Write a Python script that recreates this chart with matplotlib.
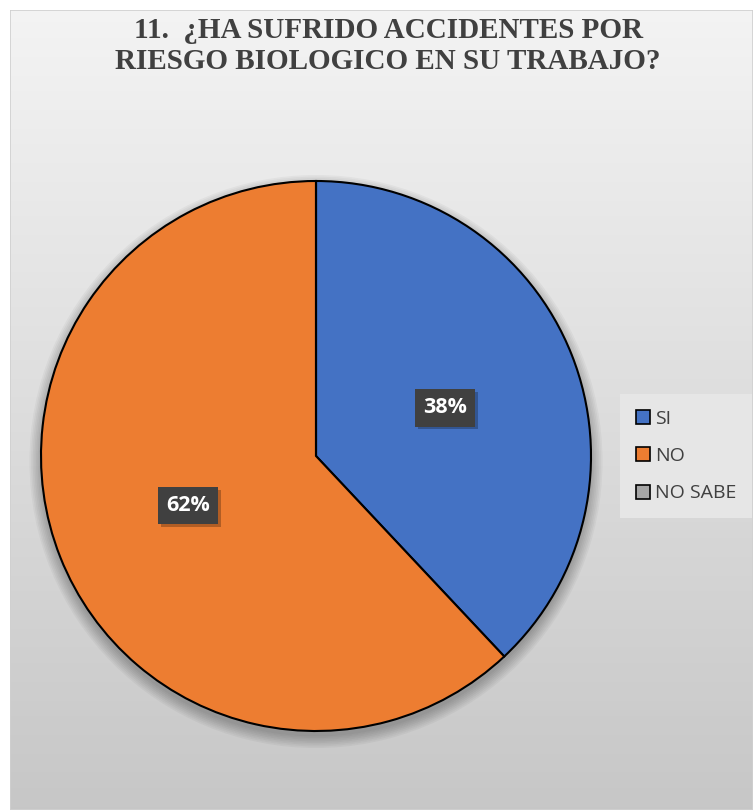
import numpy as np
import matplotlib
matplotlib.use("Agg")
from matplotlib import pyplot as plt
from matplotlib import patheffects as pe

labels = ["SI", "NO", "NO SABE"]
values = [38, 62, 0]
colors = ["#4472c4", "#ed7d31", "#a5a5a5"]
title = "11.  ¿HA SUFRIDO ACCIDENTES POR\nRIESGO BIOLOGICO EN SU TRABAJO?"

W, H = 753, 810
fig = plt.figure(figsize=(W / 100, H / 100), dpi=100)
fig.patch.set_facecolor("white")

# gray gradient panel behind the chart
bg = fig.add_axes([10 / W, 0, 1 - 10 / W, 1 - 10 / H])
grad = np.linspace(0.955, 0.78, 256).reshape(-1, 1)
bg.imshow(np.dstack([grad, grad, grad]), aspect="auto", extent=[0, 1, 0, 1])
bg.set_xlim(0, 1)
bg.set_ylim(0, 1)
bg.axis("off")
bg.add_patch(plt.Rectangle((0, 0), 1, 1, fill=False, ec="#d0d0d0", lw=1.2))

fig.text(388 / W, 1 - 46 / H, title, ha="center", va="center",
         fontsize=21, fontweight="bold", family="Liberation Serif",
         color="#404040", linespacing=1.15)

# pie centered around (316, 456), radius ~275 px
r = 275
ax = fig.add_axes([(316 - r) / W, 1 - (456 + r) / H, 2 * r / W, 2 * r / H])
# soft shadow: stacked translucent circles
for k in range(8):
    ax.add_patch(plt.Circle((0, -0.02), 1 + 0.006 * k, color="black",
                            alpha=0.035, lw=0, clip_on=False, zorder=0))
wedges, _ = ax.pie(values, colors=colors, startangle=90, counterclock=False,
                   radius=1, wedgeprops=dict(edgecolor="black", linewidth=1.5))
ax.set_xlim(-1, 1)
ax.set_ylim(-1, 1)
ax.set_aspect("equal")
ax.axis("off")

# percentage boxes
label_pos = {"SI": (0.47, 0.175), "NO": (-0.465, -0.18)}
for lab, v in zip(labels, values):
    if v == 0:
        continue
    x, y = label_pos[lab]
    t = ax.text(x, y, f"{v}%", ha="center", va="center", color="white",
                fontsize=15.5, fontweight="bold", family="Open Sans",
                bbox=dict(boxstyle="square,pad=0.38", fc="#404040", ec="none"))
    t.get_bbox_patch().set_path_effects([
        pe.withSimplePatchShadow(offset=(2, -2), alpha=0.25, shadow_rgbFace="black"),
        pe.Normal()])

handles = [plt.Rectangle((0, 0), 1, 1, fc=c, ec="black", lw=1.2) for c in colors]
leg = fig.legend(handles, labels, loc="center left",
                 bbox_to_anchor=(620 / W, 1 - 456 / H), frameon=True,
                 fancybox=False, prop=dict(family="Open Sans", size=14),
                 handlelength=0.75, handleheight=0.75, handletextpad=0.25,
                 labelspacing=1.0, borderpad=0.8, borderaxespad=0,
                 labelcolor="#404040")
leg.get_frame().set_facecolor("#e6e6e6")
leg.get_frame().set_edgecolor("none")
leg.get_frame().set_alpha(1)

fig.savefig("out.png", dpi=100)
